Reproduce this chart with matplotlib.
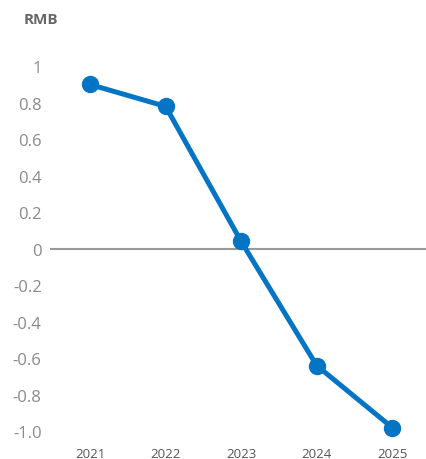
import matplotlib
matplotlib.use("Agg")
import matplotlib.pyplot as plt

years = [2021, 2022, 2023, 2024, 2025]
values = [0.90, 0.78, 0.04, -0.64, -0.98]
ytick_vals = [1.0, 0.8, 0.6, 0.4, 0.2, 0.0, -0.2, -0.4, -0.6, -0.8, -1.0]
ytick_labels = ["1", "0.8", "0.6", "0.4", "0.2", "0", "-0.2", "-0.4", "-0.6", "-0.8", "-1.0"]
unit_label = "RMB"

plt.rcParams["font.family"] = ["Open Sans", "DejaVu Sans"]

W, H = 427, 460
fig = plt.figure(figsize=(W / 100, H / 100), dpi=100)
left, right, top, bottom = 50, 427, 49, 445
ax = fig.add_axes([left / W, (H - bottom) / H, (right - left) / W, (bottom - top) / H])

blue = "#0474C4"
ax.axhline(0, color="#9a9a9a", lw=1.5, zorder=1)
ax.plot(years, values, color=blue, lw=3.6, marker="o", markersize=11.5,
        solid_capstyle="round", zorder=3)

ax.set_xlim(2020.47, 2025.46)
ax.set_ylim(-1.07, 1.1)
ax.set_xticks(years)
ax.set_xticklabels([str(y) for y in years], fontsize=9.5, color="#555555")
ax.set_yticks(ytick_vals)
ax.set_yticklabels(ytick_labels, fontsize=12, color="#8a8a8a")
ax.tick_params(axis="both", length=0)
ax.tick_params(axis="y", pad=6)
ax.tick_params(axis="x", pad=2)
for s in ax.spines.values():
    s.set_visible(False)

fig.text(24 / W, 1 - 20 / H, unit_label, fontsize=11, fontweight="bold",
         color="#666666", ha="left", va="center")

fig.savefig("out.png", dpi=100, facecolor="white")
